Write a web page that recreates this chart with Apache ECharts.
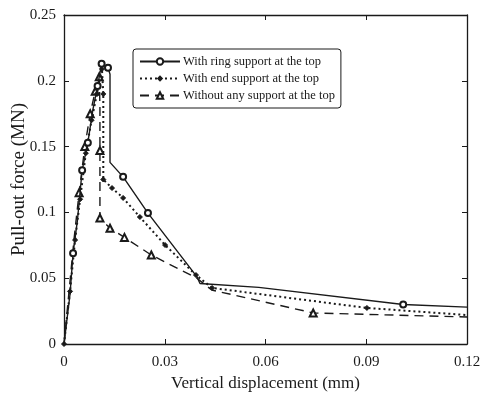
<!DOCTYPE html>
<html>
<head>
<meta charset="utf-8">
<script src="https://cdn.jsdelivr.net/npm/echarts@6/dist/echarts.min.js"></script>
<style>
  html, body { margin: 0; padding: 0; background: #fff; }
  #chart { width: 483px; height: 396px; }
</style>
</head>
<body>
<div id="chart"></div>
<script>
// Pull-out force vs vertical displacement for three top-support conditions
const seriesNames = [
  'With ring support at the top',
  'With end support at the top',
  'Without any support at the top'
];

// Ring support (solid, open circles)
const ringX = [0, 0.0018, 0.0027, 0.0040, 0.0054, 0.0071, 0.0086, 0.0100, 0.0112, 0.0131, 0.0137, 0.0137, 0.0176, 0.0250, 0.0396, 0.0405, 0.0580, 0.1010, 0.1200];
const ringY = [0, 0.038, 0.069, 0.094, 0.132, 0.153, 0.178, 0.196, 0.213, 0.210, 0.205, 0.138, 0.127, 0.0995, 0.051, 0.046, 0.043, 0.030, 0.028];
const ringMarked = [2, 4, 5, 7, 8, 9, 12, 13, 17];

// End support (dotted, small filled diamonds)
const endX = [0, 0.0018, 0.0033, 0.0048, 0.0065, 0.0082, 0.0098, 0.0113, 0.0117, 0.0117, 0.0143, 0.0176, 0.0226, 0.0301, 0.0393, 0.0441, 0.0902, 0.1200];
const endY = [0, 0.040, 0.079, 0.110, 0.145, 0.170, 0.190, 0.209, 0.190, 0.125, 0.1185, 0.111, 0.0965, 0.0752, 0.0524, 0.0426, 0.0274, 0.022];
const endMarked = [0, 1, 2, 3, 4, 5, 6, 7, 8, 9, 10, 11, 12, 13, 14, 15, 16];

// No support (dashed, open triangles)
const noneX = [0, 0.0015, 0.0030, 0.0045, 0.0062, 0.0078, 0.0093, 0.0105, 0.0107, 0.0107, 0.0107, 0.0137, 0.0180, 0.0260, 0.0396, 0.0440, 0.0742, 0.1200];
const noneY = [0, 0.040, 0.080, 0.115, 0.150, 0.175, 0.192, 0.203, 0.180, 0.147, 0.0957, 0.088, 0.081, 0.0676, 0.050, 0.041, 0.0236, 0.0205];
const noneMarked = [3, 4, 5, 6, 7, 9, 10, 11, 12, 13, 16];

const xTicks = { min: 0, max: 0.12, step: 0.03 };
const yTicks = { min: 0, max: 0.25, step: 0.05 };

function pairs(xs, ys, marked) {
  return xs.map((x, i) => marked.includes(i) ? [x, ys[i]] : { value: [x, ys[i]], symbol: 'none' });
}

const ink = '#1a1a1a';
const serif = '"Liberation Serif", "DejaVu Serif", serif';

const chart = echarts.init(document.getElementById('chart'), null, { renderer: 'canvas' });

const baseAxis = {
  axisLine: { onZero: false, lineStyle: { color: ink, width: 1.3 } },
  axisTick: { inside: true, length: 5, lineStyle: { color: ink, width: 1 } },
  splitLine: { show: false }
};

chart.setOption({
  backgroundColor: '#fff',
  animation: false,
  textStyle: { fontFamily: serif, color: ink },
  grid: { left: 64, right: 16, top: 15, bottom: 52, containLabel: false, outerBoundsMode: 'none' },
  legend: {
    orient: 'vertical',
    left: 133, top: 49,
    padding: [6, 6, 6, 6],
    borderColor: ink, borderWidth: 1, borderRadius: 3,
    itemWidth: 40, itemHeight: 8, itemGap: 4,
    textStyle: { fontFamily: serif, fontSize: 12.5, color: ink, padding: [0, 0, 0, -2] },
    data: seriesNames
  },
  xAxis: [
    Object.assign({}, baseAxis, {
      type: 'value', min: xTicks.min, max: xTicks.max, interval: xTicks.step,
      name: 'Vertical displacement (mm)', nameLocation: 'middle', nameGap: 31,
      nameMoveOverlap: false,
      nameTextStyle: { fontFamily: serif, fontSize: 17, color: ink },
      axisLabel: { fontFamily: serif, fontSize: 15, color: ink, margin: 11 }
    }),
    Object.assign({}, baseAxis, {
      type: 'value', position: 'top', min: xTicks.min, max: xTicks.max, interval: xTicks.step,
      axisLabel: { show: false }
    })
  ],
  yAxis: [
    Object.assign({}, baseAxis, {
      type: 'value', min: yTicks.min, max: yTicks.max, interval: yTicks.step,
      name: 'Pull-out force (MN)', nameLocation: 'middle', nameGap: 35,
      nameMoveOverlap: false,
      nameTextStyle: { fontFamily: serif, fontSize: 19, color: ink },
      axisLabel: { fontFamily: serif, fontSize: 15, color: ink, margin: 8 }
    }),
    Object.assign({}, baseAxis, {
      type: 'value', position: 'right', min: yTicks.min, max: yTicks.max, interval: yTicks.step,
      axisLabel: { show: false }
    })
  ],
  series: [
    {
      name: seriesNames[0], type: 'line', xAxisIndex: 0, yAxisIndex: 0,
      data: pairs(ringX, ringY, ringMarked),
      symbol: 'emptyCircle', symbolSize: 6,
      lineStyle: { color: ink, width: 1.4, type: 'solid' },
      itemStyle: { color: ink, borderColor: ink, borderWidth: 1 },
      z: 3
    },
    {
      name: seriesNames[1], type: 'line', xAxisIndex: 0, yAxisIndex: 0,
      data: pairs(endX, endY, endMarked),
      symbol: 'diamond', symbolSize: 5,
      lineStyle: { color: ink, width: 2, type: [2, 3] },
      itemStyle: { color: ink, borderColor: ink },
      z: 2
    },
    {
      name: seriesNames[2], type: 'line', xAxisIndex: 0, yAxisIndex: 0,
      data: pairs(noneX, noneY, noneMarked),
      symbol: 'emptyTriangle', symbolSize: 7,
      lineStyle: { color: ink, width: 1.4, type: [9, 6] },
      itemStyle: { color: ink, borderColor: ink, borderWidth: 1 },
      z: 1
    }
  ]
});
</script>
</body>
</html>
